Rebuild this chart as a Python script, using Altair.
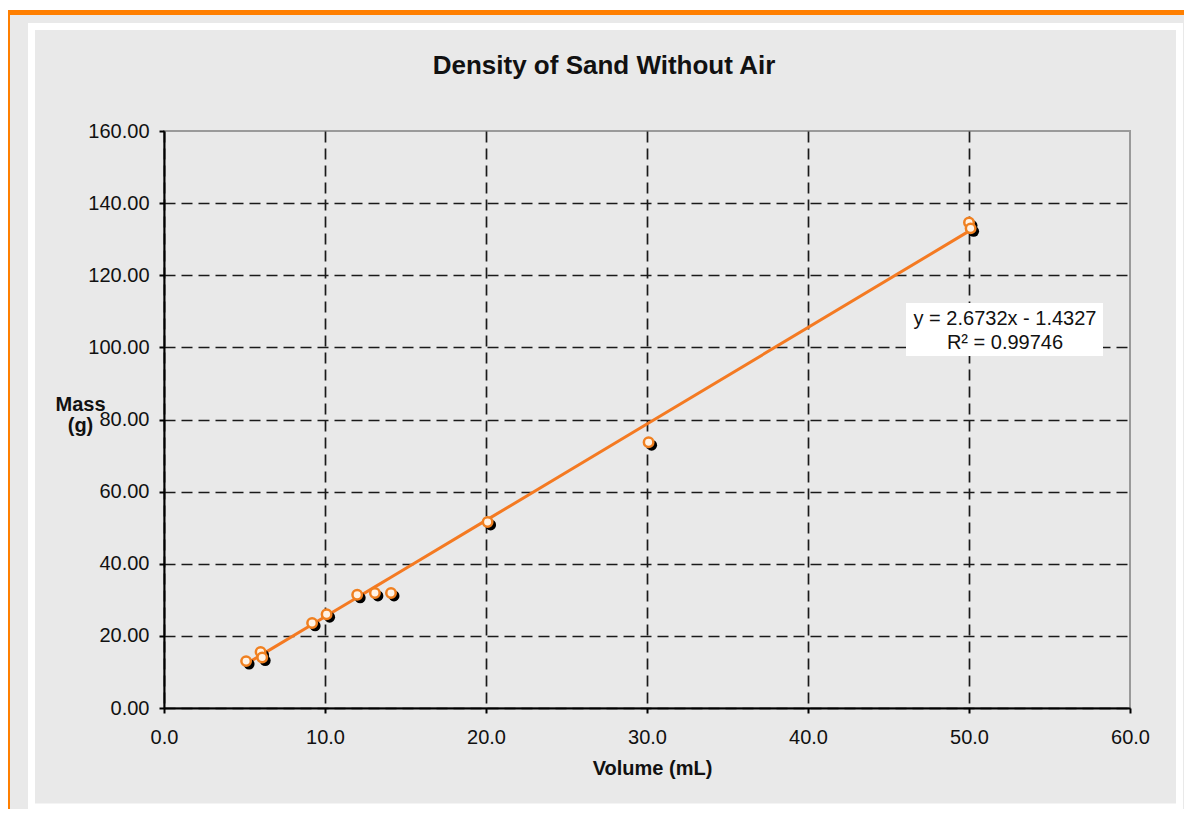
import altair as alt
import pandas as pd

# ---- data ----
volume_ml = [5.1, 6.0, 6.1, 9.2, 10.1, 12.0, 13.1, 14.1, 20.1, 30.1, 50.0, 50.1]
mass_g    = [13.0, 15.5, 14.0, 23.6, 26.0, 31.4, 31.9, 31.9, 51.6, 73.7, 134.6, 133.0]
slope = 2.6732
intercept = -1.4327
eq_lines = ["y = 2.6732x - 1.4327", "R\u00b2 = 0.99746"]
chart_title = "Density of Sand Without Air"
x_ticks = [0, 10, 20, 30, 40, 50, 60]
y_ticks = [0, 20, 40, 60, 80, 100, 120, 140, 160]

df = pd.DataFrame({"volume": volume_ml, "mass": mass_g})
one = pd.DataFrame({"k": [0]})

FONT = "Liberation Sans"
GREY = "#e9e9e9"
ORANGE = "#ff7f00"
LINE_OR = "#f47a22"

W, H = 966, 577
PAD_L, PAD_T = 156, 123
SVG_W, SVG_H = 1176, 801

xs = alt.Scale(domain=[0, 60], nice=False)
ys = alt.Scale(domain=[0, 160], nice=False)

x_axis = alt.Axis(
    values=x_ticks, format=".1f", title="Volume (mL)", labelFlush=False,
    labelFont=FONT, labelFontSize=20, labelColor="#111", labelPadding=14,
    titleFont=FONT, titleFontSize=20, titleFontWeight="bold", titleColor="#111",
    titleX=488, titleY=50, titleBaseline="top", titleAnchor="middle",
    domainColor="#000", domainWidth=2, tickColor="#000", tickWidth=2, tickSize=5,
    grid=True, gridColor="#1a1a1a", gridWidth=1.7, gridDash=[11, 6],
    gridOpacity={"expr": "datum.value >= 60 ? 0 : 1"},
)
y_axis = alt.Axis(
    values=y_ticks, format=".2f", title=["Mass", "(g)"], labelFlush=False,
    labelFont=FONT, labelFontSize=20, labelColor="#111", labelPadding=10,
    titleFont=FONT, titleFontSize=20, titleFontWeight="bold", titleColor="#111",
    titleAngle=0, titleAlign="center", titleBaseline="top",
    titleX=-84, titleY=263, titleLineHeight=21,
    domainColor="#000", domainWidth=2, tickColor="#000", tickWidth=2, tickSize=5,
    grid=True, gridColor="#1a1a1a", gridWidth=1.7, gridDash=[11, 6],
    gridOpacity={"expr": "datum.value >= 160 ? 0 : 1"},
)

# frame decorations (pixel positions relative to the plot area)
top_white = alt.Chart(one).mark_rect(color="white").encode(
    x=alt.value(-PAD_L), x2=alt.value(SVG_W - PAD_L),
    y=alt.value(-PAD_T), y2=alt.value(-121))
top_orange = alt.Chart(one).mark_rect(color=ORANGE).encode(
    x=alt.value(-PAD_L), x2=alt.value(SVG_W - PAD_L),
    y=alt.value(-121), y2=alt.value(-116))
left_orange = alt.Chart(one).mark_rect(color=ORANGE).encode(
    x=alt.value(-PAD_L), x2=alt.value(-154),
    y=alt.value(-121), y2=alt.value(SVG_H - PAD_T))
white_frame = alt.Chart(one).mark_rect(filled=False, stroke="white", strokeWidth=7).encode(
    x=alt.value(-132.5), x2=alt.value(1015.5),
    y=alt.value(-104.5), y2=alt.value(676))

title = alt.Chart(one).mark_text(
    text=chart_title, font=FONT, fontSize=26, fontWeight="bold",
    color="#111", align="center", baseline="alphabetic").encode(
    x=alt.value(440), y=alt.value(-57))

base = alt.Chart(df)

trend = base.transform_calculate(
    fit=f"{slope} * datum.volume + ({intercept})"
).mark_line(color=LINE_OR, strokeWidth=3).encode(
    x=alt.X("volume:Q", scale=xs, axis=x_axis),
    y=alt.Y("fit:Q", scale=ys, axis=y_axis),
)

shadow = base.mark_circle(color="#000", opacity=1, size=120, xOffset=3, yOffset=3).encode(
    x=alt.X("volume:Q", scale=xs), y=alt.Y("mass:Q", scale=ys))

points = base.mark_point(shape="circle", filled=True, fill="#fff3e6", stroke="#f08020",
                         strokeWidth=2.5, opacity=1, size=90).encode(
    x=alt.X("volume:Q", scale=xs), y=alt.Y("mass:Q", scale=ys))

eq_box = alt.Chart(one).mark_rect(color="white").encode(
    x=alt.value(742), x2=alt.value(939), y=alt.value(172), y2=alt.value(225))

eq_text1 = alt.Chart(one).mark_text(
    text=eq_lines[0], font=FONT, fontSize=20, color="#111", align="center",
    baseline="middle").encode(x=alt.value(841), y=alt.value(188))
eq_text2 = alt.Chart(one).mark_text(
    text=eq_lines[1], font=FONT, fontSize=20, color="#111", align="center",
    baseline="middle").encode(x=alt.value(841), y=alt.value(212))

chart = alt.layer(
    top_white, top_orange, left_orange, white_frame, title,
    trend, shadow, points, eq_box, eq_text1, eq_text2,
).properties(
    width=W, height=H,
    background=GREY,
    padding={"left": PAD_L, "top": PAD_T, "right": SVG_W - PAD_L - W, "bottom": SVG_H - PAD_T - H},
    autosize=alt.AutoSizeParams(type="none"),
).configure_view(fill=GREY, stroke="#9a9a9a", strokeWidth=2)

chart.save("out.html", embed_options={"renderer": "svg", "actions": False})
